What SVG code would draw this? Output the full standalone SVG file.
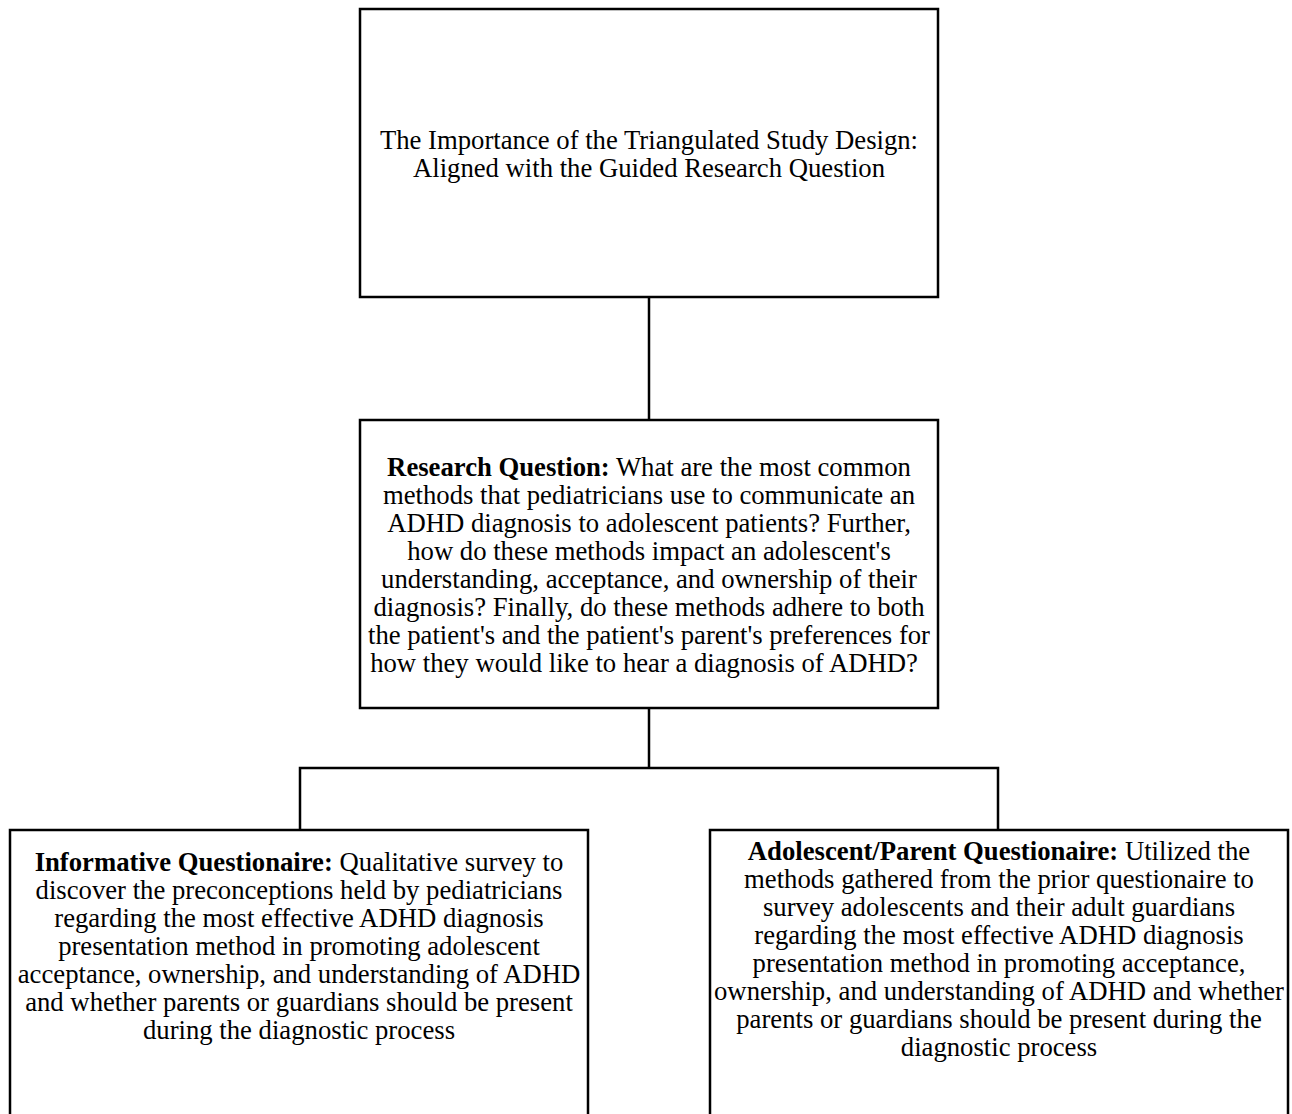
<svg xmlns="http://www.w3.org/2000/svg" width="1292" height="1114" viewBox="0 0 1292 1114">
<style>
.box{fill:#fff;stroke:#000;stroke-width:2.5}
.t{font-family:"Liberation Serif","Times New Roman",serif;font-size:26.7px;fill:#000;text-anchor:middle}
.b{font-weight:bold}
.c{fill:none;stroke:#000;stroke-width:2.5}
</style>
<rect width="1292" height="1114" fill="#fff"/>
<g id="connectors">
<line class="c" x1="649" y1="297" x2="649" y2="420"/>
<line class="c" x1="649" y1="708" x2="649" y2="768"/>
<polyline class="c" points="300,830 300,768 998,768 998,830"/>
</g>
<g id="node-title">
<rect class="box" x="360" y="9" width="578" height="288"/>
<text class="t" x="649" y="149">The Importance of the Triangulated Study Design:</text>
<text class="t" x="649" y="177">Aligned with the Guided Research Question</text>
</g>
<g id="node-research-question">
<rect class="box" x="360" y="420" width="578" height="288"/>
<text class="t" x="649" y="476"><tspan class="b">Research Question:</tspan> What are the most common</text>
<text class="t" x="649" y="504">methods that pediatricians use to communicate an</text>
<text class="t" x="649" y="532">ADHD diagnosis to adolescent patients? Further,</text>
<text class="t" x="649" y="560">how do these methods impact an adolescent's</text>
<text class="t" x="649" y="588">understanding, acceptance, and ownership of their</text>
<text class="t" x="649" y="616">diagnosis? Finally, do these methods adhere to both</text>
<text class="t" x="649" y="644">the patient's and the patient's parent's preferences for</text>
<text class="t" x="644" y="672">how they would like to hear a diagnosis of ADHD?</text>
</g>
<g id="node-informative">
<rect class="box" x="10" y="830" width="578" height="300"/>
<text class="t" x="299" y="871"><tspan class="b">Informative Questionaire:</tspan> Qualitative survey to</text>
<text class="t" x="299" y="899">discover the preconceptions held by pediatricians</text>
<text class="t" x="299" y="927">regarding the most effective ADHD diagnosis</text>
<text class="t" x="299" y="955">presentation method in promoting adolescent</text>
<text class="t" x="299" y="983">acceptance, ownership, and understanding of ADHD</text>
<text class="t" x="299" y="1011">and whether parents or guardians should be present</text>
<text class="t" x="299" y="1039">during the diagnostic process</text>
</g>
<g id="node-adolescent-parent">
<rect class="box" x="710" y="830" width="578" height="300"/>
<text class="t" x="999" y="860"><tspan class="b">Adolescent/Parent Questionaire:</tspan> Utilized the</text>
<text class="t" x="999" y="888">methods gathered from the prior questionaire to</text>
<text class="t" x="999" y="916">survey adolescents and their adult guardians</text>
<text class="t" x="999" y="944">regarding the most effective ADHD diagnosis</text>
<text class="t" x="999" y="972">presentation method in promoting acceptance,</text>
<text class="t" x="999" y="1000">ownership, and understanding of ADHD and whether</text>
<text class="t" x="999" y="1028">parents or guardians should be present during the</text>
<text class="t" x="999" y="1056">diagnostic process</text>
</g>
</svg>
